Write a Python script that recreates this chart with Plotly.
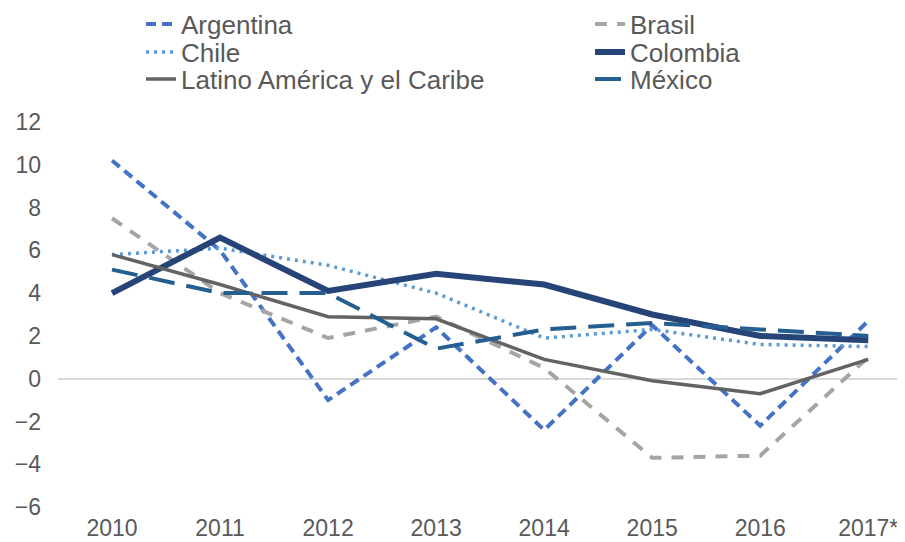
import plotly.graph_objects as go

years = ["2010", "2011", "2012", "2013", "2014", "2015", "2016", "2017*"]

argentina = [10.2, 6.0, -1.0, 2.4, -2.4, 2.5, -2.2, 2.7]
brasil = [7.5, 4.0, 1.9, 2.9, 0.5, -3.7, -3.6, 1.0]
chile = [5.8, 6.1, 5.3, 4.0, 1.9, 2.3, 1.6, 1.5]
colombia = [4.0, 6.6, 4.1, 4.9, 4.4, 3.0, 2.0, 1.8]
lac = [5.8, 4.4, 2.9, 2.8, 0.9, -0.1, -0.7, 0.9]
mexico = [5.1, 4.0, 4.0, 1.4, 2.3, 2.6, 2.3, 2.0]

# name, values, colour, width, dash, legend slot (column, row)
series = [
    ("Argentina", argentina, "#4472C4", 4, "10px,6px", (0, 0)),
    ("Brasil", brasil, "#A5A5A5", 4, "12px,10px", (1, 0)),
    ("Chile", chile, "#5B9BD5", 3.5, "3px,5px", (0, 1)),
    ("Colombia", colombia, "#264478", 6, "solid", (1, 1)),
    ("Latino América y el Caribe", lac, "#636363", 3.5, "solid", (0, 2)),
    ("México", mexico, "#255E91", 4, "26px,12px", (1, 2)),
]

txt = "#595959"
font = "Liberation Sans, Arial, sans-serif"

# page body adds an 8px margin, so the figure is a bit smaller than the window
W, H = 897, 534
col_x = [133, 582]
row_y = [16, 44, 71]

fig = go.Figure()
legends = {}
for i, (name, vals, color, w, dash, (c, r)) in enumerate(series):
    key = "legend" if i == 0 else f"legend{i + 1}"
    fig.add_trace(go.Scatter(x=years, y=vals, name=name, mode="lines",
                             line=dict(color=color, width=w, dash=dash),
                             legend=key))
    legends[key] = dict(orientation="h", xref="container", yref="container",
                        x=col_x[c] / W, y=1 - row_y[r] / H,
                        xanchor="left", yanchor="middle",
                        font=dict(size=26, color=txt, family=font),
                        bgcolor="rgba(0,0,0,0)", itemclick=False)

fig.update_layout(
    width=W, height=H,
    margin=dict(l=50, r=0, t=114, b=35, autoexpand=False),
    plot_bgcolor="white", paper_bgcolor="white",
    font=dict(family=font, color=txt, size=23),
    showlegend=True,
    xaxis=dict(type="category", range=[-0.5, 7.34], showgrid=False,
               showline=False, zeroline=False, ticks="",
               ticklabelstandoff=5,
               tickfont=dict(size=23, color=txt), automargin=False),
    yaxis=dict(range=[-6, 12], dtick=2, showgrid=False, zeroline=True,
               zerolinecolor="#D9D9D9", zerolinewidth=1.5, showline=False,
               ticks="", ticklabelstandoff=16,
               tickfont=dict(size=23, color=txt), automargin=False),
    **legends,
)

fig.write_html("out.html")
